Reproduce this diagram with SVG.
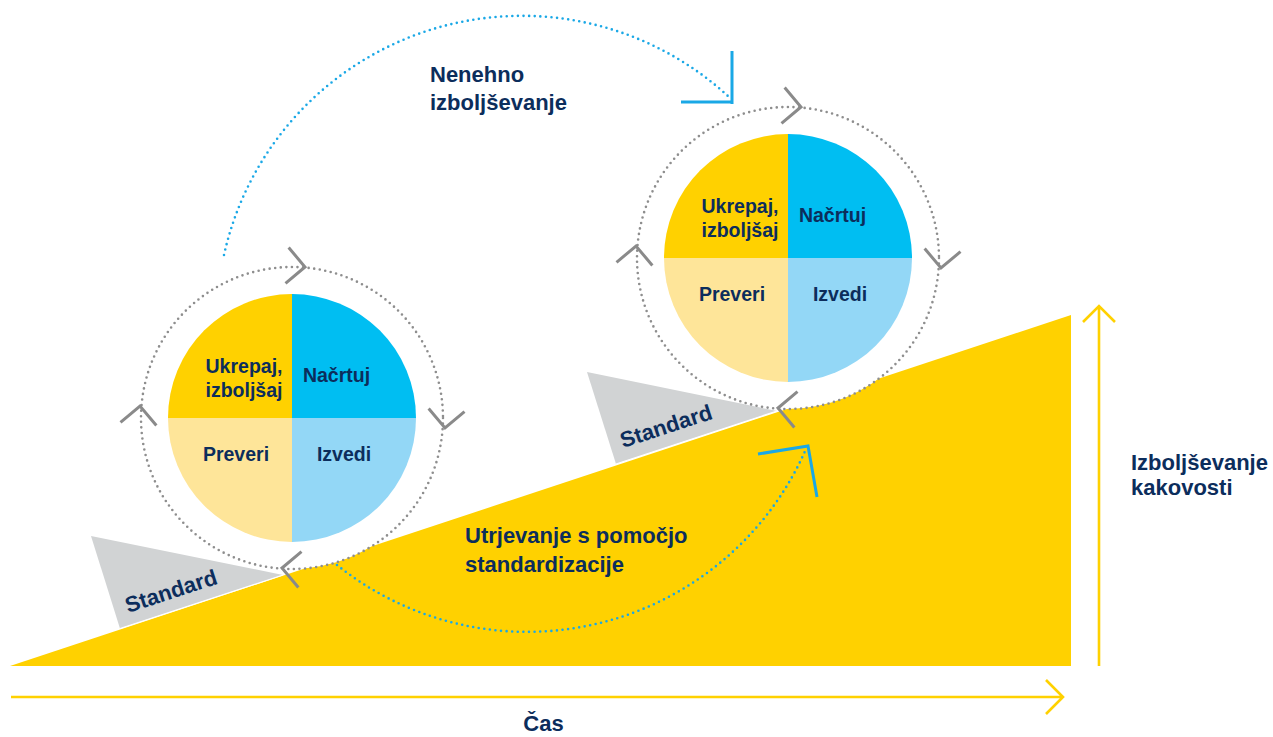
<svg xmlns="http://www.w3.org/2000/svg" xmlns:xlink="http://www.w3.org/1999/xlink" width="1273" height="737" viewBox="0 0 1273 737">
<style>
.t{font-family:"Liberation Sans",Arial,sans-serif;font-weight:bold;fill:#0c2d5c;}
.lbl{font-size:22px;}
.q{font-size:19.5px;text-anchor:middle;}
.ring{fill:none;stroke:#8e8e8e;stroke-width:2.6;stroke-linecap:round;stroke-dasharray:0 5.6;}
.chev{fill:none;stroke:#8a8a8a;stroke-width:3;}
.bdot{fill:none;stroke:#1aa8e6;stroke-width:2.6;stroke-linecap:round;stroke-dasharray:0 5.6;}
.bhead{fill:none;stroke:#1aa8e6;stroke-width:3;}
.axis{fill:none;stroke:#ffd100;stroke-width:2.6;}
.wedge{fill:#d1d3d4;}
</style>
<defs>
<path id="chev" d="M-18,-18 L0,0 L-18,18"/>
<g id="cycle">
<circle r="151" fill="#ffffff"/>
<path d="M0,0 L-124,0 A124,124 0 0 1 0,-124 Z" fill="#ffd100"/>
<path d="M0,0 L0,-124 A124,124 0 0 1 124,0 Z" fill="#00bef2"/>
<path d="M0,0 L124,0 A124,124 0 0 1 0,124 Z" fill="#93d7f6"/>
<path d="M0,0 L0,124 A124,124 0 0 1 -124,0 Z" fill="#fee599"/>
<circle r="151" class="ring"/>
<use xlink:href="#chev" class="chev" transform="translate(13,-151) rotate(5)"/>
<use xlink:href="#chev" class="chev" transform="translate(153,10) rotate(95)"/>
<use xlink:href="#chev" class="chev" transform="translate(-10,150) rotate(185)"/>
<use xlink:href="#chev" class="chev" transform="translate(-152,-12) rotate(275)"/>
</g>
</defs>
<rect width="1273" height="737" fill="#ffffff"/>

<g id="ramp">
<polygon points="10,666 1071,315 1071,666" fill="#ffd100"/>
</g>

<g id="standard-left">
<polygon class="wedge" points="91,536 120,628.5 283,575"/>
<line x1="120" y1="628.5" x2="283" y2="575" stroke="#ffffff" stroke-width="1.2"/>
<text class="t lbl" transform="translate(128,613) rotate(-18)">Standard</text>
</g>
<g id="standard-right">
<polygon class="wedge" points="587,372 616,464 777,411"/>
<line x1="616" y1="464" x2="777" y2="411" stroke="#ffffff" stroke-width="1.2"/>
<text class="t lbl" transform="translate(623,448) rotate(-18)">Standard</text>
</g>

<g id="pdca-left">
<use xlink:href="#cycle" transform="translate(292,418)"/>
<text class="t q" x="244" y="373">Ukrepaj,</text>
<text class="t q" x="244" y="397">izboljšaj</text>
<text class="t q" x="336.5" y="382">Načrtuj</text>
<text class="t q" x="236" y="461">Preveri</text>
<text class="t q" x="344" y="461">Izvedi</text>
</g>

<g id="pdca-right">
<use xlink:href="#cycle" transform="translate(788,258)"/>
<text class="t q" x="740" y="213">Ukrepaj,</text>
<text class="t q" x="740" y="237">izboljšaj</text>
<text class="t q" x="832.5" y="222">Načrtuj</text>
<text class="t q" x="732" y="301">Preveri</text>
<text class="t q" x="840" y="301">Izvedi</text>
</g>

<g id="connectors">
<path class="bdot" d="M224,255 A305,305 0 0 1 729,97"/>
<path class="bhead" d="M732,51 L732,104 M681,102 L733.5,102"/>
<path class="bdot" d="M337,565 A304,304 0 0 0 806,449"/>
<path class="bhead" d="M758,454 L808,446 L817,497"/>
<path class="axis" d="M1099,666 L1099,306 M1083,322 L1099,306 L1115,322"/>
<path class="axis" d="M11,697 L1063,697 M1046,680 L1063,697 L1046,714"/>
</g>

<g id="label-nenehno">
<text class="t lbl" x="430" y="82">Nenehno</text>
<text class="t lbl" x="430" y="110">izboljševanje</text>
</g>
<g id="label-utrjevanje">
<text class="t lbl" x="465" y="543">Utrjevanje s pomočjo</text>
<text class="t lbl" x="465" y="572">standardizacije</text>
</g>
<g id="label-kakovost">
<text class="t lbl" x="1131" y="470">Izboljševanje</text>
<text class="t lbl" x="1131" y="495">kakovosti</text>
</g>
<g id="label-cas">
<text class="t lbl" x="543.5" y="731" text-anchor="middle">Čas</text>
</g>
</svg>
